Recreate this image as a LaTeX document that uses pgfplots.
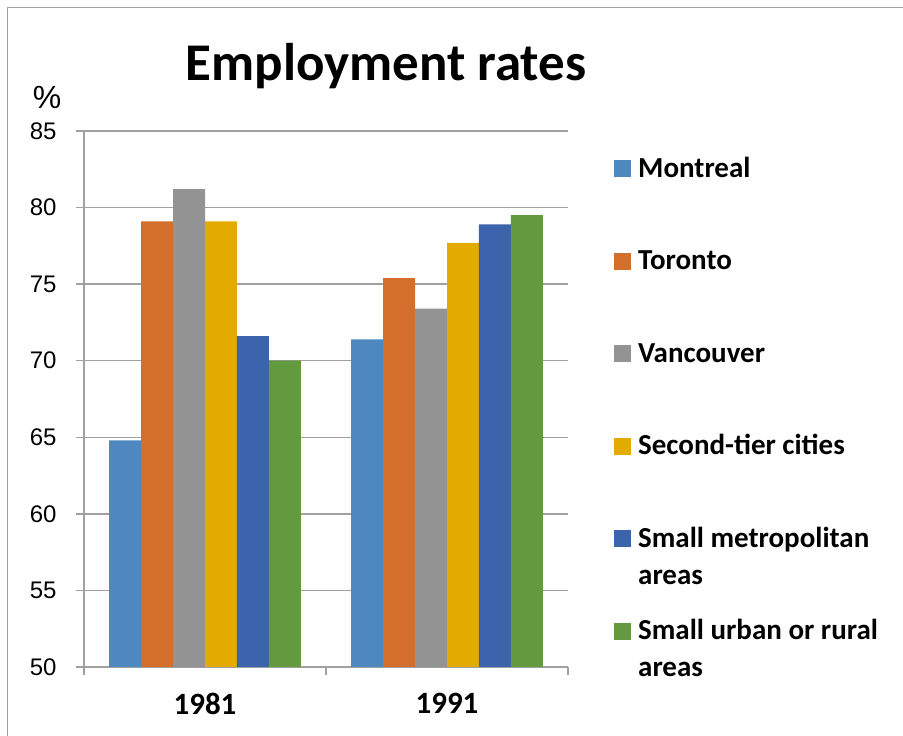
\documentclass[border=0pt]{standalone}
\usepackage{fontspec}
\setmainfont{Carlito}
\newfontfamily\arialf{Liberation Sans}
\usepackage{pgfplots}
\pgfplotsset{compat=1.18}
\definecolor{cMon}{HTML}{4F88BE}
\definecolor{cTor}{HTML}{D36F2B}
\definecolor{cVan}{HTML}{939393}
\definecolor{cSec}{HTML}{E3AA00}
\definecolor{cSma}{HTML}{3C64AD}
\definecolor{cUrb}{HTML}{639A3F}
\definecolor{gridgray}{HTML}{A0A0A0}
\begin{document}
\begin{tikzpicture}[x=1pt,y=1pt]
\useasboundingbox (0,0) rectangle (903,736);
\draw[color=gridgray, line width=1.5pt] (7.5,0) -- (7.5,728.5) -- (903,728.5);
\node[font=\bfseries\fontsize{53}{60}\selectfont] at (386,670) {Employment rates};
\node[font=\arialf\fontsize{32}{36}\selectfont] at (47,638) {\%};
\begin{axis}[
  at={(84pt,69pt)}, anchor=south west, scale only axis,
  width=484pt, height=536pt,
  xmin=-0.5, xmax=1.5, ymin=50, ymax=85,
  ytick={50,55,...,85},
  xtick={0,1}, xticklabels={1981,1991},
  minor xtick={-0.5,0.5,1.5},
  tick align=outside,
  major tick length=8pt, minor tick length=8pt,
  every major x tick/.append style={draw=none},
  every minor x tick/.append style={draw=gridgray, line width=1.3pt},
  every major y tick/.append style={draw=gridgray, line width=1.3pt},
  ymajorgrids,
  major grid style={draw=gridgray, line width=1.3pt},
  axis x line*=bottom, axis y line*=left,
  axis line style={-, draw=gridgray, line width=1.3pt},
  /pgf/number format/assume math mode=true,
  yticklabel style={font=\arialf\fontsize{24}{24}\selectfont, xshift=-16pt},
  xticklabel style={font=\bfseries\fontsize{31}{32}\selectfont, yshift=-15pt},
  ybar=0pt, bar width=0.1322,
  every axis plot/.append style={draw=none},
  legend image code/.code={\fill[#1] (0pt,26pt) rectangle (17pt,43pt);},
  legend cell align=left,
  legend style={at={(1.095,0.9515)}, anchor=north west, draw=none, fill=none,
    inner sep=0pt, column sep=7pt, row sep=0pt,
    nodes={inner sep=0pt, font=\bfseries\fontsize{29}{37}\selectfont,
      text width=258pt, align=flush left, text height=20pt, text depth=72.5pt},
    cells={align=flush left}},
]
\addplot[fill=cMon] coordinates {(0,64.8) (1,71.4)};
\addplot[fill=cTor] coordinates {(0,79.1) (1,75.4)};
\addplot[fill=cVan] coordinates {(0,81.2) (1,73.4)};
\addplot[fill=cSec] coordinates {(0,79.1) (1,77.7)};
\addplot[fill=cSma] coordinates {(0,71.6) (1,78.9)};
\addplot[fill=cUrb] coordinates {(0,70.0) (1,79.5)};
\legend{Montreal,Toronto,Vancouver,Second-tier cities,Small metropolitan areas,Small urban or rural areas}
\end{axis}
\end{tikzpicture}
\end{document}
